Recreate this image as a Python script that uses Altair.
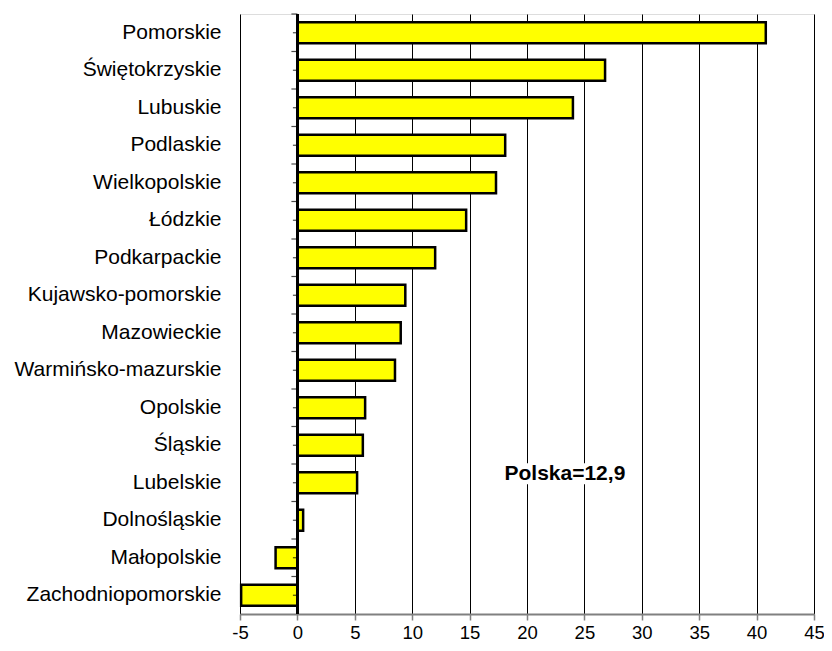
import altair as alt
import pandas as pd

regions = ["Pomorskie", "Świętokrzyskie", "Lubuskie", "Podlaskie", "Wielkopolskie",
           "Łódzkie", "Podkarpackie", "Kujawsko-pomorskie", "Mazowieckie",
           "Warmińsko-mazurskie", "Opolskie", "Śląskie", "Lubelskie",
           "Dolnośląskie", "Małopolskie", "Zachodniopomorskie"]
values = [40.8, 26.8, 24.0, 18.1, 17.3, 14.7, 12.0, 9.4, 9.0, 8.5, 5.9, 5.7, 5.2, 0.5, -1.9, -4.9]

x_ticks = [-5, 0, 5, 10, 15, 20, 25, 30, 35, 40, 45]
note_text = ["Polska=12,9"]
note_row = ["Lubelskie"]
note_x = [23.3]
note_box_from = [17.5]
note_box_to = [29.0]

FONT = "Liberation Sans"
W, H = 574, 600
STEP = H / len(regions)

df = pd.DataFrame({"region": regions, "value": values, "zero": [0] * len(regions)})
note = pd.DataFrame({"text": note_text, "region": note_row, "x": note_x,
                     "x1": note_box_from, "x2": note_box_to})

xscale = alt.Scale(domain=[-5, 45], nice=False, zero=False)
yscale = alt.Scale(domain=regions, paddingInner=0.44, paddingOuter=0.22)

x_axis = alt.Axis(values=x_ticks, grid=True, gridColor="black", gridWidth=1, gridOpacity=1,
                  domainColor="#808080", domainWidth=2, tickColor="#808080", tickWidth=1.5,
                  tickSize=6, labelFont=FONT, labelFontSize=18.5, labelColor="black",
                  labelPadding=3, title=None, labelFlush=False,
                  labelExpr="'' + datum.value")
y_axis = alt.Axis(domain=False, ticks=False, tickSize=0, labelFont=FONT, labelFontSize=21,
                  labelColor="black", labelPadding=19, title=None, labelLimit=400)

bars = alt.Chart(df).mark_bar(color="#FFFF00", stroke="black", strokeWidth=2.5).encode(
    x=alt.X("value:Q", scale=xscale, axis=x_axis),
    x2="zero:Q",
    y=alt.Y("region:N", scale=yscale, sort=regions, axis=y_axis),
)

zero_line = alt.Chart(df).mark_rule(color="black", strokeWidth=2).encode(
    x=alt.X("zero:Q", scale=xscale),
    y=alt.value(0), y2=alt.value(H),
)

center_ticks = alt.Chart(df).mark_tick(color="black", orient="horizontal", size=4,
                                        thickness=1.2, xOffset=-2.5).encode(
    x=alt.X("zero:Q", scale=xscale),
    y=alt.Y("region:N", scale=yscale, sort=regions),
)
band_ticks = alt.Chart(df).mark_tick(color="black", orient="horizontal", size=6,
                                      thickness=1.2, xOffset=-3, yOffset=-STEP / 2).encode(
    x=alt.X("zero:Q", scale=xscale),
    y=alt.Y("region:N", scale=yscale, sort=regions),
)

note_box = alt.Chart(note).mark_rect(color="white", yOffset=-9).encode(
    x=alt.X("x1:Q", scale=xscale), x2="x2:Q",
    y=alt.Y("region:N", scale=yscale, sort=regions),
)
note_label = alt.Chart(note).mark_text(font=FONT, fontSize=21, fontWeight="bold",
                                        color="black", dy=-9).encode(
    x=alt.X("x:Q", scale=xscale),
    y=alt.Y("region:N", scale=yscale, sort=regions),
    text="text:N",
)

chart = alt.layer(note_box, bars, zero_line, center_ticks, band_ticks, note_label).properties(
    width=W, height=H,
    autosize=alt.AutoSizeParams(type="none"),
    padding={"left": 232, "top": 6, "right": 10, "bottom": 29},
).configure_view(stroke="#808080", strokeWidth=2).configure(background="white")

chart.save("out.html", embed_options={"renderer": "svg", "actions": False})
